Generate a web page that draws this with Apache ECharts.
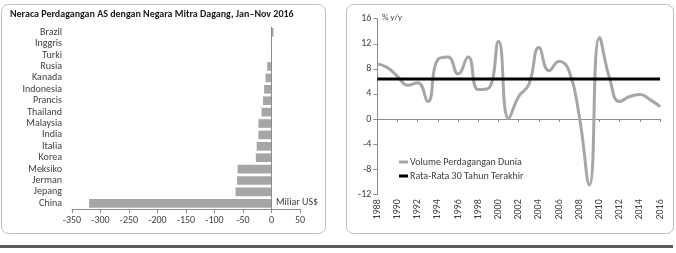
<!DOCTYPE html>
<html>
<head>
<meta charset="utf-8">
<script src="https://cdn.jsdelivr.net/npm/echarts@6/dist/echarts.min.js"></script>
<style>
html,body{margin:0;padding:0;background:#fff;}
#c{width:676px;height:253px;}
</style>
</head>
<body>
<div id="c"></div>
<script>
// Left chart: US trade balance by partner, Jan–Nov 2016 (billion US$)
var countries = ["Brazil","Inggris","Turki","Rusia","Kanada","Indonesia","Prancis","Thailand","Malaysia","India","Italia","Korea","Meksiko","Jerman","Jepang","China"];
var balance   = [3.5, -1.0, -0.6, -7.5, -10.5, -13, -15, -17.5, -23, -23, -26, -27.5, -59.5, -60.5, -63, -320];
var balanceTicks = [-350,-300,-250,-200,-150,-100,-50,0,50];

// Right chart: world trade volume growth (% y/y)
var years = ["1988","1989","1990","1991","1992","1993","1994","1995","1996","1997","1998","1999","2000","2001","2002","2003","2004","2005","2006","2007","2008","2009","2010","2011","2012","2013","2014","2015","2016"];
var tradeVolume = [8.8, 8.2, 6.8, 5.4, 5.8, 2.8, 9.5, 9.9, 7.2, 9.9, 4.7, 4.9, 12.4, 0.1, 3.6, 5.5, 11.4, 7.7, 9.2, 7.6, 0.4, -10.5, 13.0, 6.5, 2.8, 3.6, 3.9, 3.1, 2.0];
var avg30 = [6.4, 6.4, 6.4, 6.4, 6.4, 6.4, 6.4, 6.4, 6.4, 6.4, 6.4, 6.4, 6.4, 6.4, 6.4, 6.4, 6.4, 6.4, 6.4, 6.4, 6.4, 6.4, 6.4, 6.4, 6.4, 6.4, 6.4, 6.4, 6.4];
var growthTicks = [-12,-8,-4,0,4,8,12,16];

var FONT = "Carlito, Lato, 'Open Sans', sans-serif";
var TXT = '#404040';
var AX = '#8c8c8c';

var chart = echarts.init(document.getElementById('c'), null, {renderer:'canvas'});
chart.setOption({
  animation: false,
  textStyle: {fontFamily: FONT},
  grid: [
    {left: 72, right: 376, top: 26.6, bottom: 44},
    {left: 377.3, right: 15.9, top: 18.7, bottom: 58.7}
  ],
  legend: {
    orient: 'vertical', left: 394, top: 152, itemGap: 4,
    itemWidth: 9, itemHeight: 3, icon: 'rect',
    textStyle: {fontFamily: FONT, fontSize: 10, color: TXT, padding: [0,0,0,-3]},
    data: ['Volume Perdagangan Dunia', 'Rata-Rata 30 Tahun Terakhir']
  },
  xAxis: [
    {gridIndex: 0, type: 'value', min: balanceTicks[0], max: balanceTicks[balanceTicks.length-1], interval: 50,
     axisLine: {show: true, lineStyle: {color: AX}}, axisTick: {show: true, length: 4, lineStyle: {color: AX}},
     axisLabel: {fontSize: 10, color: TXT, margin: 6, fontFamily: FONT}, splitLine: {show: false}},
    {gridIndex: 1, type: 'category', data: years, boundaryGap: false, position: 'bottom',
     axisLine: {show: false, onZero: false}, axisTick: {show: false},
     axisLabel: {rotate: 90, interval: 1, fontSize: 10, color: TXT, margin: 5, fontFamily: FONT}},
    {gridIndex: 1, type: 'category', data: years, boundaryGap: false, position: 'top',
     axisLine: {show: true, onZero: true, lineStyle: {color: AX}},
     axisTick: {show: true, interval: 1, inside: true, length: 3, lineStyle: {color: AX}},
     axisLabel: {show: false}}
  ],
  yAxis: [
    {gridIndex: 0, type: 'category', data: countries, inverse: true,
     axisLine: {show: false}, axisTick: {show: false},
     axisLabel: {interval: 0, fontSize: 10, color: TXT, margin: 10, fontFamily: FONT}},
    {gridIndex: 1, type: 'value', min: growthTicks[0], max: growthTicks[growthTicks.length-1], interval: 4,
     axisLine: {show: true, lineStyle: {color: AX}}, axisTick: {show: true, length: 4, lineStyle: {color: AX}},
     axisLabel: {fontSize: 10, color: TXT, margin: 6, fontFamily: FONT}, splitLine: {show: false}}
  ],
  series: [
    {type: 'bar', xAxisIndex: 0, yAxisIndex: 0, data: balance, barCategoryGap: '24%',
     itemStyle: {color: '#a6a6a6'},
     markLine: {silent: true, symbol: 'none', label: {show: false},
       lineStyle: {color: AX, width: 1, type: 'solid'}, data: [{xAxis: 0}]}},
    {name: 'Volume Perdagangan Dunia', type: 'line', xAxisIndex: 1, yAxisIndex: 1, data: tradeVolume,
     smooth: 0.5, showSymbol: false, symbol: 'none', lineStyle: {color: '#a6a6a6', width: 3}, itemStyle: {color: '#a6a6a6'}, z: 3},
    {name: 'Rata-Rata 30 Tahun Terakhir', type: 'line', xAxisIndex: 1, yAxisIndex: 1, data: avg30,
     showSymbol: false, symbol: 'none', lineStyle: {color: '#000', width: 3}, itemStyle: {color: '#000'}, z: 4}
  ],
  graphic: [
    {type: 'rect', shape: {x: 1.5, y: 4.5, width: 324, height: 229, r: 7}, style: {fill: 'none', stroke: '#bfbfbf', lineWidth: 1}, silent: true},
    {type: 'rect', shape: {x: 346.5, y: 4.5, width: 327, height: 229, r: 7}, style: {fill: 'none', stroke: '#bfbfbf', lineWidth: 1}, silent: true},
    {type: 'rect', shape: {x: 0, y: 245, width: 673, height: 3}, style: {fill: '#5a5a5a'}, silent: true},
    {type: 'text', left: 10, top: 9, style: {text: 'Neraca Perdagangan AS dengan Negara Mitra Dagang, Jan\u2013Nov 2016', font: 'bold 10px ' + FONT, fill: '#1a1a1a'}},
    {type: 'text', left: 276, top: 197, style: {text: 'Miliar US$', font: '10px ' + FONT, fill: TXT}},
    {type: 'text', left: 382, top: 13, style: {text: '% y/y', font: '9px ' + FONT, fill: TXT}}
  ]
});
</script>
</body>
</html>
